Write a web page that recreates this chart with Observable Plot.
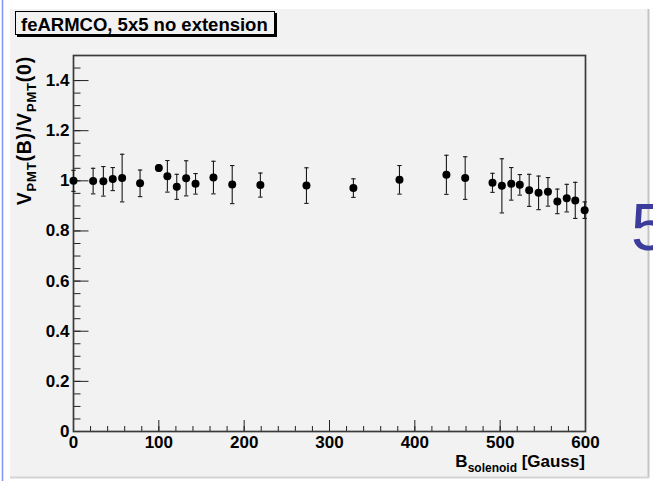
<!DOCTYPE html>
<html><head><meta charset="utf-8">
<script src="https://cdn.jsdelivr.net/npm/d3@7"></script>
<script src="https://cdn.jsdelivr.net/npm/@observablehq/plot@0.6"></script>
<style>
html,body{margin:0;padding:0;background:#fff;}
#chart{position:relative;width:653px;height:481px;overflow:hidden;}
</style></head><body><div id="chart"></div>
<script>
// B field [Gauss]
const bField = [0, 23, 35, 46, 57, 78, 100, 110, 121, 132, 143, 164, 186, 219, 273, 328, 382, 437, 459, 491, 502, 513, 523, 534, 545, 556, 567, 578, 588, 599];
// V_PMT(B)/V_PMT(0)
const ratio = [1.000, 0.999, 0.998, 1.007, 1.011, 0.990, 1.051, 1.018, 0.976, 1.010, 0.988, 1.013, 0.985, 0.983, 0.981, 0.971, 1.004, 1.024, 1.011, 0.992, 0.980, 0.988, 0.984, 0.962, 0.952, 0.956, 0.918, 0.931, 0.922, 0.883];
const ratioErr = [0.042, 0.051, 0.059, 0.046, 0.095, 0.053, 0.012, 0.063, 0.050, 0.070, 0.041, 0.065, 0.076, 0.048, 0.071, 0.037, 0.057, 0.078, 0.085, 0.038, 0.108, 0.065, 0.041, 0.064, 0.067, 0.057, 0.049, 0.055, 0.072, 0.033];

const xMajorTicks = [0, 100, 200, 300, 400, 500, 600];
const yMajorTicks = [0, 0.2, 0.4, 0.6, 0.8, 1, 1.2, 1.4];
const xMinorTicks = d3.range(0, 601, 20);
const yMinorTicks = d3.range(0, 1.5001, 0.05);
const titleText = "feARMCO, 5x5 no extension";
const sideText = "5";

const data = bField.map((b, i) => ({b, r: ratio[i], lo: ratio[i] - ratioErr[i], hi: ratio[i] + ratioErr[i]}));

const capSymbol = {draw(ctx, size) { const h = Math.sqrt(size / Math.PI); ctx.moveTo(-h, 0); ctx.lineTo(h, 0); }};
const fontFam = "'Liberation Sans', Arial, Helvetica, sans-serif";

const svgEl = Plot.plot({
  width: 653, height: 481,
  marginLeft: 73, marginRight: 68, marginTop: 55, marginBottom: 50,
  style: {background: "transparent", fontFamily: fontFam, fontSize: "17px", fontWeight: "bold", color: "#000", overflow: "visible"},
  x: {domain: [0, 600]},
  y: {domain: [0, 1.5]},
  marks: [
    // inward ticks: positive size, shifted back inside the frame
    Plot.axisX({ticks: xMinorTicks, tickSize: 5, dy: -5, fill: "none", label: null, stroke: "#222"}),
    Plot.axisX({ticks: xMajorTicks, tickSize: 11, dy: -11, fill: "none", label: null, stroke: "#222"}),
    Plot.axisX({ticks: xMajorTicks, tickSize: 0, tickPadding: 4, label: null, tickFormat: d => String(d)}),
    Plot.axisY({ticks: yMinorTicks, tickSize: 7.5, dx: 7.5, fill: "none", label: null, stroke: "#222"}),
    Plot.axisY({ticks: yMajorTicks, tickSize: 15.5, dx: 15.5, fill: "none", label: null, stroke: "#222"}),
    Plot.axisY({ticks: yMajorTicks, tickSize: 0, tickPadding: 4, label: null, tickFormat: d => String(+d.toFixed(1))}),
    Plot.frame({stroke: "#3a3a3a", strokeWidth: 1.7}),
    Plot.ruleX(data, {x: "b", y1: "lo", y2: "hi", stroke: "#1a1a1a", strokeWidth: 1.1}),
    Plot.dot(data, {x: "b", y: "lo", symbol: capSymbol, r: 2.2, stroke: "#1a1a1a", fill: "none", strokeWidth: 1.1}),
    Plot.dot(data, {x: "b", y: "hi", symbol: capSymbol, r: 2.2, stroke: "#1a1a1a", fill: "none", strokeWidth: 1.1}),
    Plot.dot(data, {x: "b", y: "r", r: 4, fill: "#000", stroke: "none"})
  ]
});
document.getElementById("chart").appendChild(svgEl);

const svg = d3.select(svgEl);
// background panel (inserted behind)
const bg = svg.insert("g", ":first-child");
bg.append("rect").attr("x", 10).attr("y", 9).attr("width", 638).attr("height", 468).attr("fill", "#f2f2f2");
bg.append("line").attr("x1", 648.5).attr("x2", 648.5).attr("y1", 9).attr("y2", 478).attr("stroke", "#c4c4c4").attr("stroke-width", 2);
bg.append("line").attr("x1", 10).attr("x2", 649).attr("y1", 477.5).attr("y2", 477.5).attr("stroke", "#d4d4d4").attr("stroke-width", 2);
bg.append("line").attr("x1", 2.5).attr("x2", 2.5).attr("y1", 0).attr("y2", 481).attr("stroke", "#8094ee").attr("stroke-width", 1.5);

// title box
const tb = svg.append("g").attr("text-anchor", "start");
tb.append("rect").attr("x", 17).attr("y", 13).attr("width", 260).attr("height", 24).attr("fill", "#000");
tb.append("rect").attr("x", 15.5).attr("y", 11.5).attr("width", 259).attr("height", 23).attr("fill", "#f2f2f2").attr("stroke", "#000").attr("stroke-width", 1);
tb.append("text").attr("x", 21).attr("y", 30.5).attr("text-anchor", "start").attr("font-family", fontFam).attr("font-weight", "bold").attr("font-size", 18.5).attr("fill", "#000").text(titleText);

// y axis label
const yl = svg.append("text").attr("transform", "translate(31,56) rotate(-90)")
  .attr("text-anchor", "end").attr("font-family", fontFam).attr("font-weight", "bold").attr("font-size", 19.5).attr("letter-spacing", 0.8).attr("fill", "#000");
yl.append("tspan").text("V");
yl.append("tspan").attr("dy", 5).attr("font-size", 13).text("PMT");
yl.append("tspan").attr("dy", -5).text("(B)/V");
yl.append("tspan").attr("dy", 5).attr("font-size", 13).text("PMT");
yl.append("tspan").attr("dy", -5).text("(0)");

// x axis label
const xl = svg.append("text").attr("x", 585).attr("y", 467)
  .attr("text-anchor", "end").attr("font-family", fontFam).attr("font-weight", "bold").attr("font-size", 17).attr("fill", "#000");
xl.append("tspan").text("B");
xl.append("tspan").attr("dy", 4.5).attr("font-size", 12).text("solenoid");
xl.append("tspan").attr("dy", -4.5).text(" [Gauss]");

// big side digit (cut at the right edge, as in the reference)
svg.append("text").attr("x", 631).attr("y", 250).attr("text-anchor", "start").attr("font-family", fontFam).attr("font-size", 66).attr("font-weight", 300).attr("fill", "#3c3c9c").text(sideText);
</script>
</body></html>
